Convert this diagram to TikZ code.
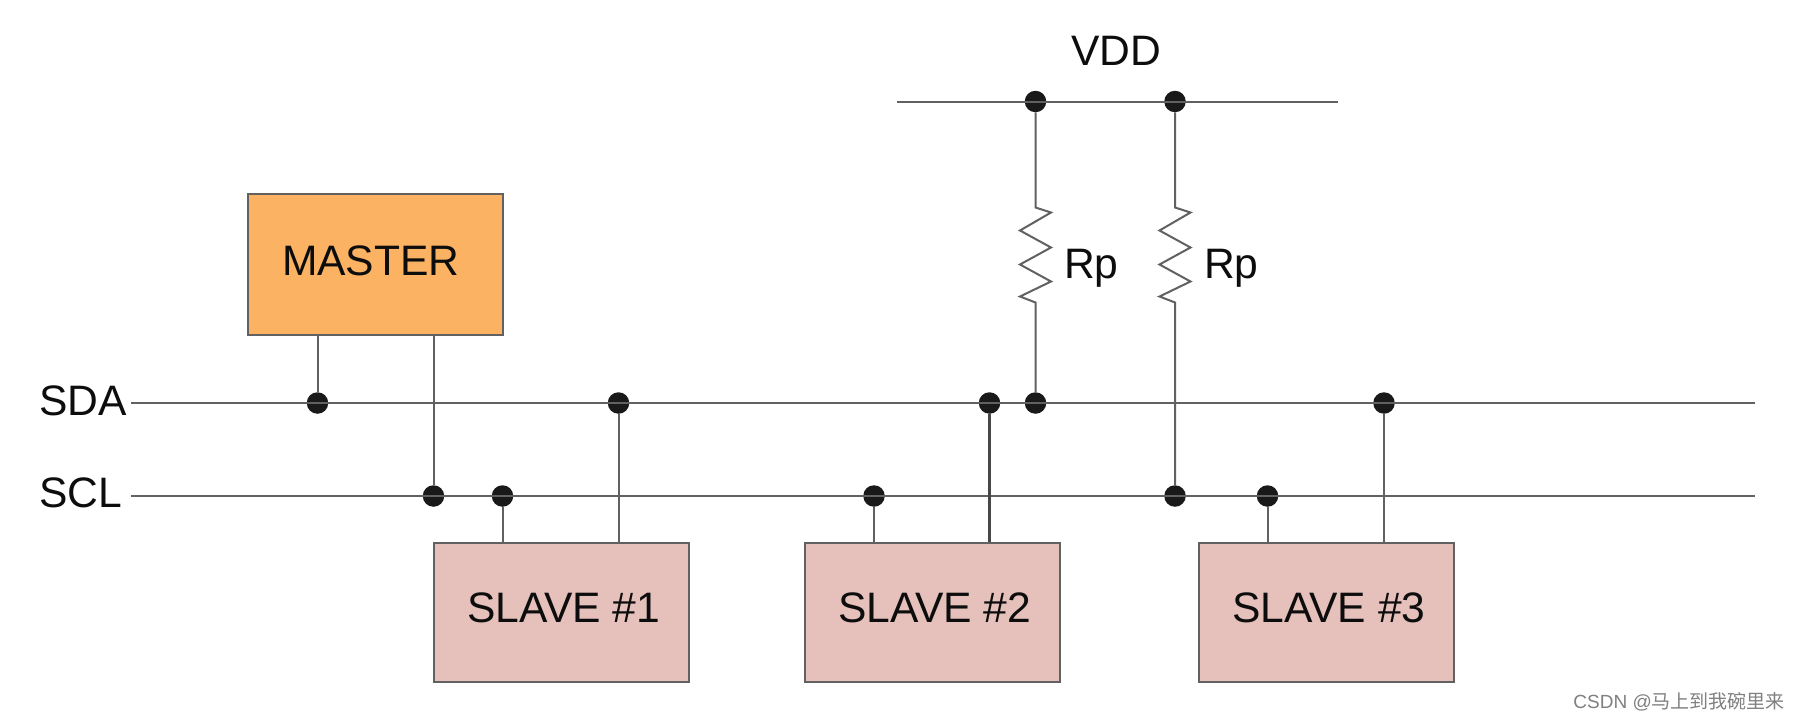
\documentclass[tikz,border=0pt]{standalone}
\usepackage{fontspec}
\setmainfont{Liberation Sans}
\newfontfamily\cjk{Noto Sans CJK SC}
\tikzset{
  wire/.style={draw=black!62,line width=2pt},
  darkwire/.style={draw=black!72,line width=2.2pt},
  dotnode/.style={circle,fill=black!90,draw=none,minimum size=21.5pt,inner sep=0pt},
  box/.style={rectangle,draw=black!62,line width=2pt,inner sep=0pt,anchor=north west},
  masterbox/.style={box,fill=masterfill,minimum width=255pt,minimum height=140.5pt},
  slavebox/.style={box,fill=slavefill,minimum width=255pt,minimum height=139.5pt},
  lab/.style={anchor=base west,inner sep=0pt,outer sep=0pt,text=black!95,font=\fontsize{42.6}{43}\selectfont},
  marktext/.style={anchor=base east,inner sep=0pt,text=black!50,font=\fontsize{19}{20}\selectfont}
}
\definecolor{masterfill}{HTML}{FBB263}
\definecolor{slavefill}{HTML}{E6C1BB}
\begin{document}
\begin{tikzpicture}[x=1pt,y=-1pt]
\useasboundingbox (0,0) rectangle (1800,720);
\fill[white] (0,0) rectangle (1800,720);
% boxes
\node[masterbox] (master) at (247,193) {};
\node[slavebox] (s1) at (433,541.5) {};
\node[slavebox] (s2) at (803.5,541.5) {};
\node[slavebox] (s3) at (1198,541.5) {};
% free ends
\coordinate (sdaL) at (131,403);
\coordinate (sdaR) at (1755,403);
\coordinate (sclL) at (131,496);
\coordinate (sclR) at (1755,496);
\coordinate (vddL) at (897,101.5);
\coordinate (vddR) at (1338,101.5);
% dots
\node[dotnode] (dm) at (317.5,403) {};
\node[dotnode] (d1a) at (618.5,403) {};
\node[dotnode] (d2a) at (989.5,403) {};
\node[dotnode] (dra) at (1035.5,403) {};
\node[dotnode] (d3a) at (1384,403) {};
\node[dotnode] (dmc) at (433.5,496) {};
\node[dotnode] (d1c) at (502.5,496) {};
\node[dotnode] (d2c) at (874,496) {};
\node[dotnode] (drc) at (1175,496) {};
\node[dotnode] (d3c) at (1267.5,496) {};
\node[dotnode] (va) at (1035.5,101.5) {};
\node[dotnode] (vb) at (1175,101.5) {};
% buses
\draw[wire] (sdaL) -- (sdaR);
\draw[wire] (sclL) -- (sclR);
\draw[wire] (vddL) -- (vddR);
% stubs
\draw[wire] (dm) -- (dm |- master.south);
\draw[wire] (dmc) -- (dmc |- master.south);
\draw[wire] (d1c) -- (d1c |- s1.north);
\draw[wire] (d1a) -- (d1a |- s1.north);
\draw[wire] (d2c) -- (d2c |- s2.north);
\draw[darkwire] (d2a) -- (d2a |- s2.north);
\draw[wire] (d3c) -- (d3c |- s3.north);
\draw[wire] (d3a) -- (d3a |- s3.north);
% resistors
\draw[wire,line join=miter] (va) -- ++(0,106) -- ++(15.5,5) -- ++(-31,18) -- ++(31,17) -- ++(-31,17) -- ++(31,17) -- ++(-31,15) -- ++(15.5,6) -- (dra);
\draw[wire,line join=miter] (vb) -- ++(0,106) -- ++(15.5,5) -- ++(-31,18) -- ++(31,17) -- ++(-31,17) -- ++(31,17) -- ++(-31,15) -- ++(15.5,6) -- (drc);
% texts
\node[lab] (tsda) at (39,415) {SDA};
\node[lab] (tscl) at (39,507) {SCL};
\node[lab] (tm) at (282,275.5) {MASTER};
\node[lab] (t1) at (467,622) {SLAVE \#1};
\node[lab] (t2) at (838,622) {SLAVE \#2};
\node[lab] (t3) at (1232,622) {SLAVE \#3};
\node[lab] (tv) at (1071,65) {VDD};
\node[lab] (tr1) at (1064,278.5) {Rp};
\node[lab] (tr2) at (1204,278.5) {Rp};
\node[marktext] (wm) at (1785,708) {CSDN @{\cjk 马上到我碗里来}};
\end{tikzpicture}
\end{document}
